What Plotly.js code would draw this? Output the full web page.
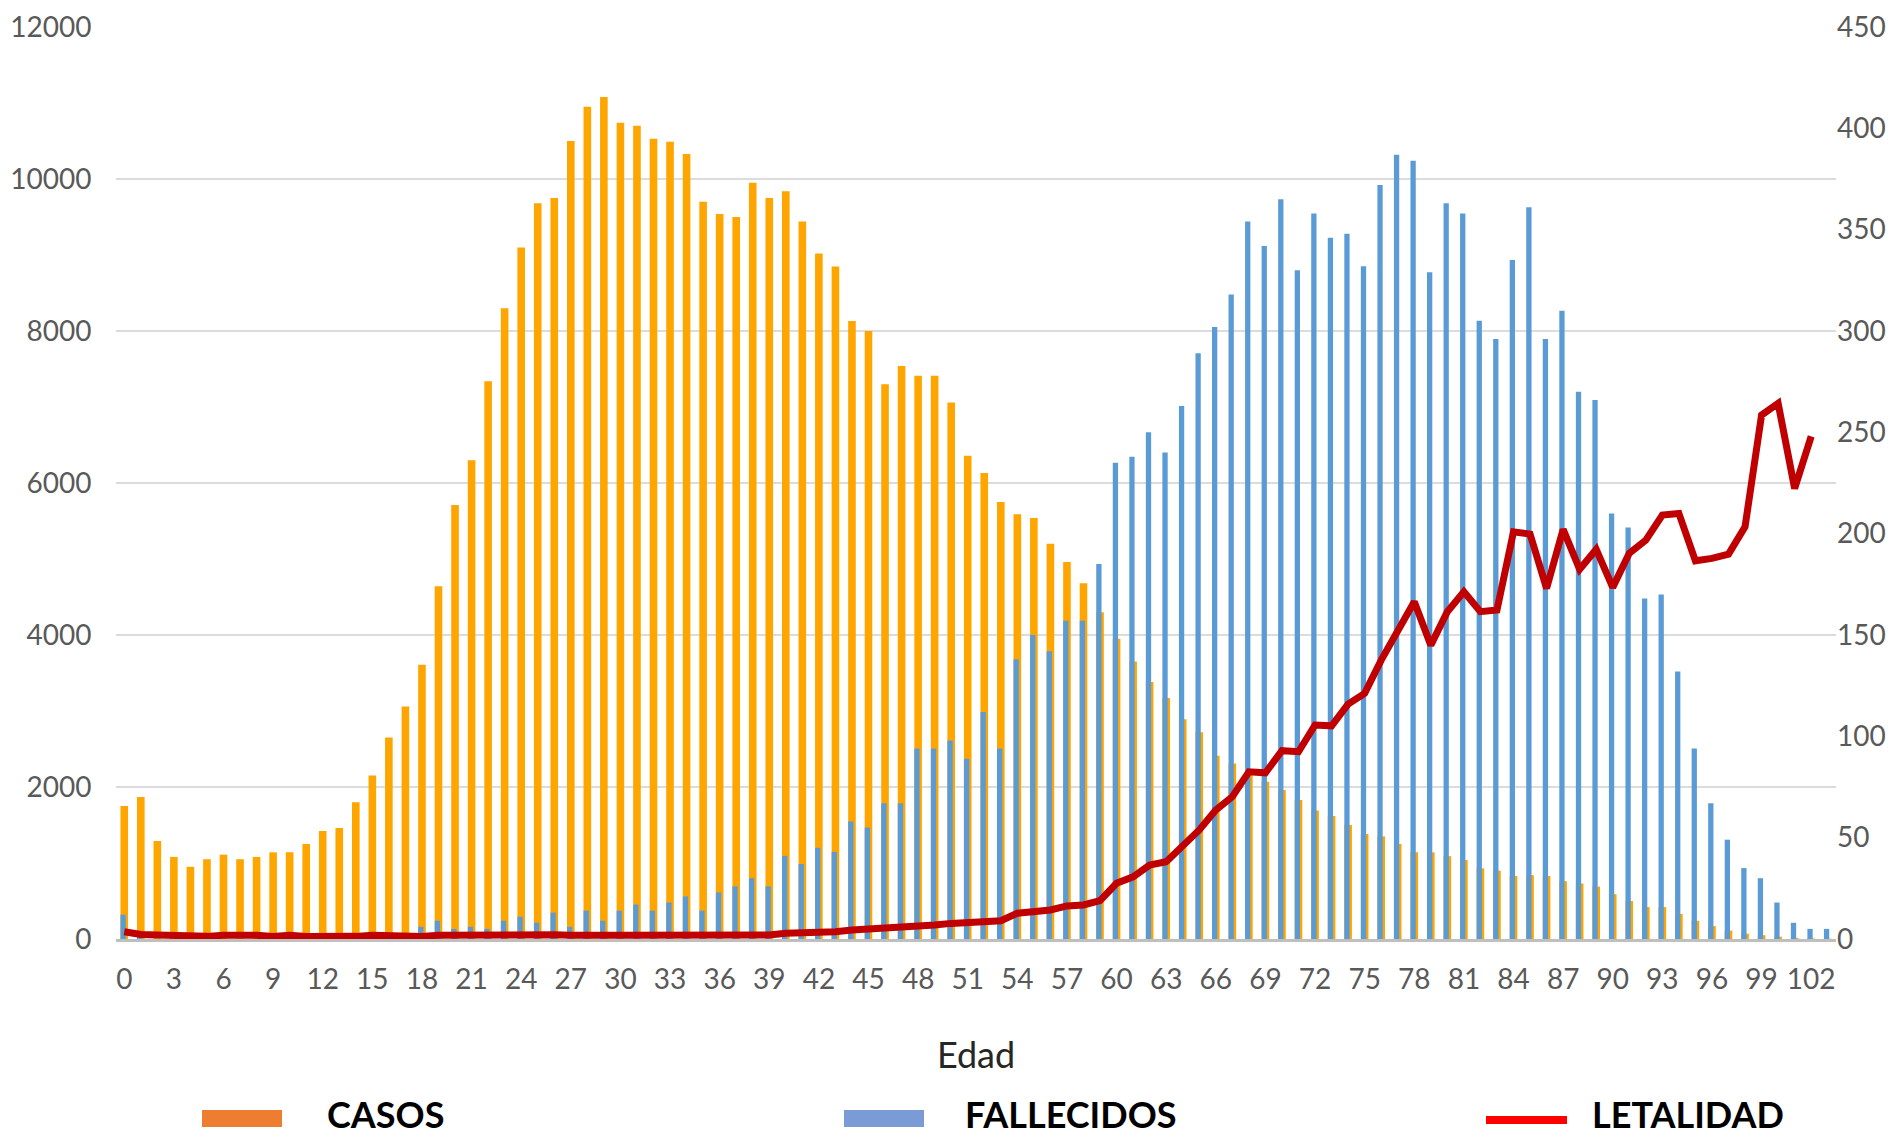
<!DOCTYPE html>
<html>
<head>
<meta charset="utf-8">
<script src="https://cdn.plot.ly/plotly-3.0.1.min.js"></script>
<style>
html,body{margin:0;padding:0;background:#ffffff;}
#chart{width:1898px;height:1137px;}
</style>
</head>
<body>
<div id="chart"></div>
<script>
// ---- DATA ----
const edades = [0,1,2,3,4,5,6,7,8,9,10,11,12,13,14,15,16,17,18,19,20,21,22,23,24,25,26,27,28,29,
  30,31,32,33,34,35,36,37,38,39,40,41,42,43,44,45,46,47,48,49,50,51,52,53,54,55,56,57,58,59,
  60,61,62,63,64,65,66,67,68,69,70,71,72,73,74,75,76,77,78,79,80,81,82,83,84,85,86,87,88,89,
  90,91,92,93,94,95,96,97,98,99,100,101,102,103];

const casos = [1750,1870,1290,1080,950,1050,1110,1050,1080,1140,1140,1250,1420,1460,1800,2150,2650,3060,3610,4640,
  5710,6300,7340,8300,9100,9680,9750,10500,10950,11080,10740,10700,10530,10490,10330,9700,9540,9500,9950,9750,
  9840,9440,9020,8850,8130,8000,7300,7540,7410,7410,7060,6360,6130,5750,5590,5540,5200,4960,4680,4300,
  3950,3650,3380,3170,2890,2720,2410,2310,2200,2070,1960,1830,1690,1620,1500,1380,1350,1250,1140,1140,
  1090,1040,930,900,830,840,830,760,730,690,590,500,420,420,330,240,170,110,70,50,30,15,8,5];

const fallecidos = [12,1,0,0,0,0,0,0,0,0,1,0,0,1,1,1,2,2,6,9,
  5,6,5,9,11,8,13,6,14,9,14,17,14,18,21,14,23,26,30,26,
  41,37,45,43,58,55,67,67,94,94,98,89,112,94,138,150,142,157,157,185,
  235,238,250,240,263,289,302,318,354,342,365,330,358,346,348,332,372,387,384,329,
  363,358,305,296,335,361,296,310,270,266,210,203,168,170,132,94,67,49,35,30,18,8,5,5];

const letalidad = [3.6,2.2,2.0,1.9,1.2,1.3,1.9,2.0,1.8,1.2,1.9,1.2,1.1,1.2,1.3,1.9,1.8,1.0,1.2,1.9,
  2.0,2.0,2.0,2.1,2.0,2.0,2.1,1.8,1.5,1.8,1.9,1.9,1.8,1.8,1.9,1.9,1.8,1.9,1.9,2.0,
  2.8,2.9,3.1,3.6,4.4,4.8,5.6,6.1,6.6,6.9,7.7,8.1,8.6,9.0,12.7,13.8,14.3,16.3,16.8,18.9,
  27.5,30.7,36.5,38.1,45.5,53.8,63.6,70.2,82.5,82.0,92.9,92.4,105.6,105.2,115.9,121.2,137.6,151.6,166.4,145.0,
  161.5,171.3,161.5,162.3,200.9,199.8,173.0,202.1,182.4,192.2,173.5,190.3,196.8,209.2,210.0,186.6,187.8,189.9,203.4,258.5,
  264.3,222.3,248.0,null];

const xTicks = [0,3,6,9,12,15,18,21,24,27,30,33,36,39,42,45,48,51,54,57,60,63,66,69,72,75,78,81,84,87,90,93,96,99,102];
const xTickText = ["0","3","6","9","12","15","18","21","24","27","30","33","36","39","42","45","48","51","54","57","60","63","66","69","72","75","78","81","84","87","90","93","96","99","102"];

const leftTicks = [0,2000,4000,6000,8000,10000,12000];
const rightTicks = [0,50,100,150,200,250,300,350,400,450];

const legendNames = ["CASOS","FALLECIDOS","LETALIDAD"];

// ---- LAYOUT HELPERS (pixel -> paper) ----
const W = 1898, H = 1137;
const M = {l:116, r:62, t:27, b:198};
const pw = W - M.l - M.r, ph = H - M.t - M.b;
const px = v => (v - M.l) / pw;
const py = v => (H - M.b - v) / ph;

const traces = [
  {type:'bar', name:legendNames[0], x:edades, y:casos, yaxis:'y',
   marker:{color:'#FFA500'}, width:0.46, offset:-0.23, showlegend:false},
  {type:'bar', name:legendNames[1], x:edades, y:fallecidos, yaxis:'y2',
   marker:{color:'#5B9BD5'}, width:0.32, offset:-0.23, showlegend:false},
  {type:'scatter', mode:'lines', name:legendNames[2], x:edades, y:letalidad, yaxis:'y2',
   line:{color:'#C00000', width:7}, connectgaps:false, showlegend:false}
];

const tickFont = {family:'Lato, sans-serif', size:28, color:'#595959'};
const legFont = {family:'Lato, sans-serif', size:36, color:'#000000', weight:'bold'};

const layout = {
  width:W, height:H,
  margin:M,
  paper_bgcolor:'#ffffff', plot_bgcolor:'#ffffff',
  font:{family:'Lato, sans-serif'},
  barmode:'overlay',
  showlegend:false,
  xaxis:{
    range:[-0.5,103.5], tickmode:'array', tickvals:xTicks, ticktext:xTickText,
    tickfont:tickFont, ticks:'outside', ticklen:13, tickcolor:'rgba(0,0,0,0)',
    showgrid:false, zeroline:false, showline:true, linecolor:'#BFBFBF', linewidth:3,
    title:{text:'Edad', font:{family:'Lato, sans-serif', size:36, color:'#262626'}, standoff:50}
  },
  yaxis:{
    range:[0,12000], tickmode:'array', tickvals:leftTicks, tickformat:'d',
    tickfont:tickFont, ticks:'outside', ticklen:18, tickcolor:'rgba(0,0,0,0)',
    showgrid:true, gridcolor:'#DCDCDC', gridwidth:2, zeroline:false, showline:false
  },
  yaxis2:{
    range:[0,450], overlaying:'y', side:'right', tickmode:'array', tickvals:rightTicks, tickformat:'d',
    tickfont:tickFont, ticks:'',
    showgrid:false, zeroline:false, showline:false
  },
  shapes:[
    {type:'rect', xref:'paper', yref:'paper', x0:px(202), x1:px(282), y0:py(1127), y1:py(1110),
     fillcolor:'#ED7D31', line:{width:0}},
    {type:'rect', xref:'paper', yref:'paper', x0:px(844), x1:px(924), y0:py(1127), y1:py(1110),
     fillcolor:'#7B9BD6', line:{width:0}},
    {type:'line', xref:'paper', yref:'paper', x0:px(1486), x1:px(1567), y0:py(1120), y1:py(1120),
     line:{color:'#FF0000', width:8}}
  ],
  annotations:[
    {xref:'paper', yref:'paper', x:px(325), y:py(1114), xanchor:'left', yanchor:'middle',
     text:legendNames[0], showarrow:false, font:legFont},
    {xref:'paper', yref:'paper', x:px(963), y:py(1114), xanchor:'left', yanchor:'middle',
     text:legendNames[1], showarrow:false, font:legFont},
    {xref:'paper', yref:'paper', x:px(1590), y:py(1114), xanchor:'left', yanchor:'middle',
     text:legendNames[2], showarrow:false, font:legFont}
  ]
};

Plotly.newPlot('chart', traces, layout, {displayModeBar:false, staticPlot:true});
</script>
</body>
</html>
